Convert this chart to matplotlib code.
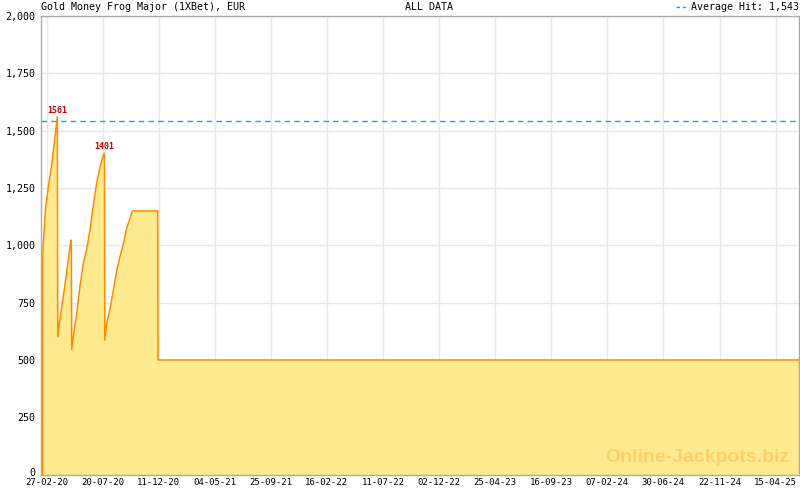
import matplotlib
matplotlib.use("Agg")
import matplotlib.pyplot as plt
import matplotlib.dates as mdates
import matplotlib.transforms as mtransforms
import numpy as np
import pandas as pd
from matplotlib.ticker import FuncFormatter, FixedLocator

# ---- data ----
dates = [
    "2020-02-16", "2020-02-16", "2020-02-18", "2020-02-24", "2020-03-02", "2020-03-11",
    "2020-03-19", "2020-03-25", "2020-03-26", "2020-03-28", "2020-04-04", "2020-04-13",
    "2020-04-21", "2020-04-27", "2020-04-30", "2020-05-01", "2020-05-05", "2020-05-14",
    "2020-05-22", "2020-05-31", "2020-06-08", "2020-06-17", "2020-06-25", "2020-07-04",
    "2020-07-13", "2020-07-21", "2020-07-24", "2020-07-25", "2020-07-30", "2020-08-07",
    "2020-08-16", "2020-08-25", "2020-09-02", "2020-09-11", "2020-09-19", "2020-09-28",
    "2020-10-04", "2020-12-08", "2020-12-09", "2025-06-14",
]
values = [
    0, 935, 1010, 1168, 1255, 1357,
    1473, 1561, 601, 630, 717, 819,
    921, 1001, 1023, 546, 601, 703,
    819, 921, 979, 1066, 1168, 1270,
    1342, 1393, 1401, 587, 660, 717,
    805, 892, 950, 1008, 1074, 1117,
    1150, 1150, 500, 500,
]
peak_dates = ["2020-03-25", "2020-07-24"]
peak_values = [1561, 1401]
average_hit = 1543

x_tick_labels = ["27-02-20", "20-07-20", "11-12-20", "04-05-21", "25-09-21", "16-02-22",
                 "11-07-22", "02-12-22", "25-04-23", "16-09-23", "07-02-24", "30-06-24",
                 "22-11-24", "15-04-25"]
y_ticks = [0, 250, 500, 750, 1000, 1250, 1500, 1750, 2000]

title = "Gold Money Frog Major (1XBet), EUR"
subtitle = "ALL DATA"
legend_text = "Average Hit: 1,543"
watermark = "Online-Jackpots.biz"

# ---- figure ----
W, H = 800, 490
fig = plt.figure(figsize=(W / 100, H / 100), dpi=100)
left_px, right_px, top_px, bottom_px = 41, 799, 16, 474.6
ax = fig.add_axes([left_px / W, 1 - bottom_px / H, (right_px - left_px) / W, (bottom_px - top_px) / H])

x = pd.to_datetime(dates)
xd = mdates.date2num(x)
mono = "DejaVu Sans Mono"
avg_color = "#1aa3dc"

ax.fill_between(xd, values, 0, color="#FFEA90", linewidth=0, zorder=2)
ax.plot(xd, values, color="#FF8C00", linewidth=1.1, zorder=3)

ax.axhline(average_hit, color=avg_color, linewidth=1, linestyle=(0, (4, 3)), zorder=4)

for d, v in zip(peak_dates, peak_values):
    ax.annotate(str(v), (mdates.date2num(pd.Timestamp(d)), v), xytext=(0, 1.5),
                textcoords="offset points", ha="center", va="bottom",
                color="#cc0000", fontsize=6, family=mono, fontweight="bold", zorder=5)

xmin = mdates.date2num(pd.Timestamp("2020-02-12"))
xmax = mdates.date2num(pd.Timestamp("2025-06-14"))
ax.set_xlim(xmin, xmax)
ax.set_ylim(0, 2000)

major = [mdates.date2num(pd.to_datetime(s, format="%d-%m-%y")) for s in x_tick_labels]
ax.xaxis.set_major_locator(FixedLocator(major))
ax.set_xticklabels(x_tick_labels)
step = (major[1] - major[0]) / 7.0
minor = np.arange(major[0], xmax, step)
ax.xaxis.set_minor_locator(FixedLocator(minor))

ax.set_yticks(y_ticks)
ax.yaxis.set_major_formatter(FuncFormatter(lambda v, p: f"{int(v):,}"))

ax.grid(True, which="major", color="#e8e8e8", linewidth=1, zorder=0)
ax.set_axisbelow(True)

for s in ax.spines.values():
    s.set_color("#aaaaaa")
    s.set_linewidth(1)

ax.tick_params(axis="x", which="major", direction="in", length=5, color="#a8a8c0",
               labelsize=6.5, pad=2.5)
ax.tick_params(axis="x", which="minor", direction="in", length=3, color="#a8a8c0")
for lab in ax.get_xticklabels():
    lab.set_family(mono)
ax.tick_params(axis="y", which="major", length=0, labelsize=7.2, pad=4)
for lab in ax.get_yticklabels():
    lab.set_family(mono)
# lift the "0" label slightly, as in the reference
ylabs = ax.get_yticklabels()
ylabs[0].set_transform(ylabs[0].get_transform() +
                       mtransforms.ScaledTranslation(0, 3 / 100, fig.dpi_scale_trans))

# header texts
yh = 1 - 7.5 / H
fig.text(41 / W, yh, title, family=mono, fontsize=7.2, ha="left", va="center")
fig.text(405 / W, yh, subtitle, family=mono, fontsize=7.2, ha="left", va="center")
fig.text(799 / W, yh, legend_text, family=mono, fontsize=7.2, ha="right", va="center")
fig.add_artist(plt.Line2D([676 / W, 689 / W], [yh, yh], color=avg_color,
                          linewidth=1, linestyle=(0, (2.5, 2)), transform=fig.transFigure))

ax.text(0.9875, 0.037, watermark, transform=ax.transAxes, ha="right", va="center",
        fontsize=14, fontweight="bold", family="Liberation Sans", color="#FFC864",
        alpha=0.8, zorder=6)

fig.savefig("out.png", dpi=100)
